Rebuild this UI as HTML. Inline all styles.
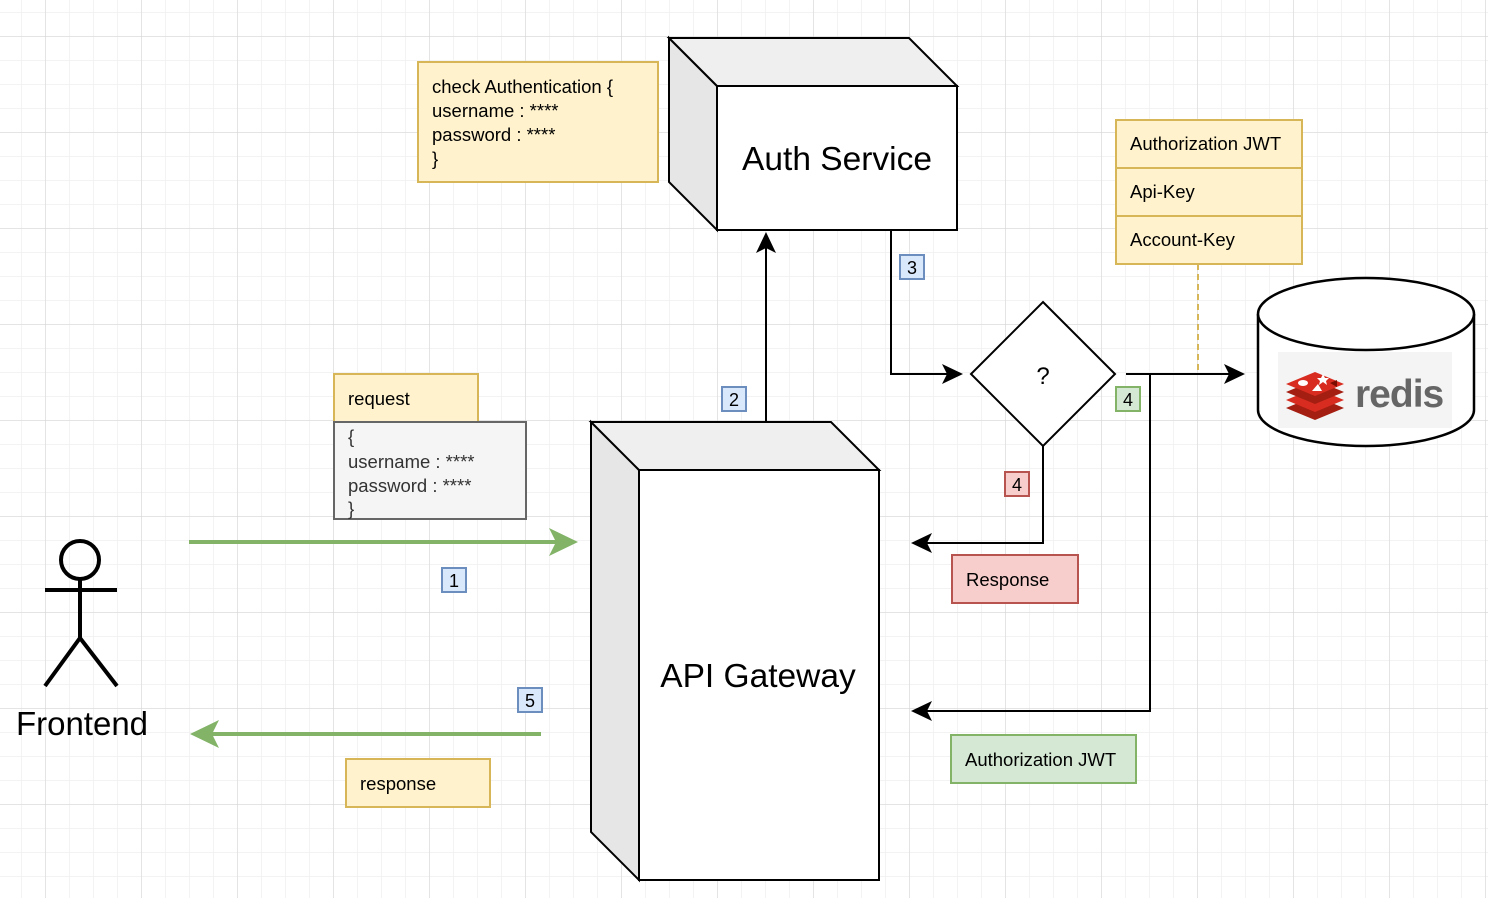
<!DOCTYPE html>
<html><head><meta charset="utf-8"><style>
html,body{margin:0;padding:0;background:#fff;}
svg{display:block;}
text{font-family:"Liberation Sans",sans-serif;fill:#000;}
</style></head><body>
<svg width="1488" height="898" viewBox="0 0 1488 898" xmlns="http://www.w3.org/2000/svg">
<defs>
<pattern id="minor" width="24" height="24" patternUnits="userSpaceOnUse" x="21" y="12">
<path d="M0 0H24M0 0V24" stroke="#efefef" stroke-width="1.5" fill="none"/>
</pattern>
<pattern id="major" width="96" height="96" patternUnits="userSpaceOnUse" x="45" y="36">
<path d="M0 0H96M0 0V96" stroke="#d2d2d2" stroke-width="1" fill="none"/>
</pattern>
</defs>
<rect width="1488" height="898" fill="url(#minor)"/>
<rect width="1488" height="898" fill="url(#major)"/>

<!-- Auth Service cube -->
<polygon points="669,38 717,86 717,230 669,182" fill="#e6e6e6" stroke="#000" stroke-width="2"/>
<polygon points="669,38 909,38 957,86 717,86" fill="#efefef" stroke="#000" stroke-width="2"/>
<rect x="717" y="86" width="240" height="144" fill="#fff" stroke="#000" stroke-width="2"/>
<text x="837" y="170" font-size="33.5" text-anchor="middle">Auth Service</text>

<!-- API Gateway cube -->
<polygon points="591,422 639,470 639,880 591,832" fill="#e6e6e6" stroke="#000" stroke-width="2"/>
<polygon points="591,422 831,422 879,470 639,470" fill="#efefef" stroke="#000" stroke-width="2"/>
<rect x="639" y="470" width="240" height="410" fill="#fff" stroke="#000" stroke-width="2"/>
<text x="758" y="687" font-size="33.5" text-anchor="middle">API Gateway</text>

<!-- check auth note -->
<rect x="418" y="62" width="240" height="120" fill="#fff2cc" stroke="#d6b656" stroke-width="2"/>
<text font-size="18.5"><tspan x="432" y="93">check Authentication {</tspan><tspan x="432" y="117">username : ****</tspan><tspan x="432" y="141">password : ****</tspan><tspan x="432" y="165">}</tspan></text>

<!-- Authorization list -->
<rect x="1116" y="120" width="186" height="144" fill="#fff2cc" stroke="#d6b656" stroke-width="2"/>
<line x1="1116" y1="168" x2="1302" y2="168" stroke="#d6b656" stroke-width="2"/>
<line x1="1116" y1="216" x2="1302" y2="216" stroke="#d6b656" stroke-width="2"/>
<text font-size="18.5"><tspan x="1130" y="150">Authorization JWT</tspan><tspan x="1130" y="198">Api-Key</tspan><tspan x="1130" y="246">Account-Key</tspan></text>
<line x1="1198" y1="264" x2="1198" y2="374" stroke="#d6b656" stroke-width="2" stroke-dasharray="6,4"/>

<!-- Redis cylinder -->
<path d="M1258 314 V410 A108 36 0 0 0 1474 410 V314" fill="#fff" stroke="#000" stroke-width="2.5"/>
<ellipse cx="1366" cy="314" rx="108" ry="36" fill="#fff" stroke="#000" stroke-width="2.5"/>
<rect x="1278" y="352" width="174" height="76" fill="#f4f4f4"/>
<g>
<polygon points="1286,408 1315,396 1344,408 1315,420" fill="#a41e11"/>
<polygon points="1286,400 1315,388 1344,400 1315,412" fill="#d82c20"/>
<polygon points="1286,392 1315,380 1344,392 1315,404" fill="#a41e11"/>
<polygon points="1286,384 1315,372 1344,384 1315,396" fill="#d82c20"/>
<ellipse cx="1303" cy="383" rx="5" ry="3" fill="#fff"/>
<polygon points="1323,374 1325,378 1329,378 1326,381 1327,385 1323,382 1319,385 1320,381 1317,378 1321,378" fill="#fff"/>
<polygon points="1312,391 1318,384 1322,391" fill="#fff"/>
<polygon points="1330,383 1337,380 1337,387" fill="#7a0c00"/>
</g>
<text x="1355" y="407" font-size="39" font-weight="bold" letter-spacing="-1" style="fill:#666">redis</text>

<!-- Diamond -->
<polygon points="1043,302 1115,374 1043,446 971,374" fill="#fff" stroke="#000" stroke-width="2"/>
<text x="1043" y="384" font-size="24" text-anchor="middle">?</text>

<!-- Connectors -->
<g stroke="#000" stroke-width="2" fill="none">
<polyline points="891,230 891,374 950,374"/>
<line x1="1126" y1="374" x2="1232" y2="374"/>
<polyline points="1150,374 1150,711 925,711"/>
<polyline points="1043,446 1043,543 925,543"/>
<line x1="766" y1="422" x2="766" y2="246"/>
</g>
<g fill="#000">
<polygon points="963,374 942,364 947,374 942,384"/>
<polygon points="1245,374 1224,364 1229,374 1224,384"/>
<polygon points="911,711 932,701 927,711 932,721"/>
<polygon points="911,543 932,533 927,543 932,553"/>
<polygon points="766,232 756,253 766,248 776,253"/>
</g>

<!-- Green arrows -->
<line x1="189" y1="542" x2="560" y2="542" stroke="#82b366" stroke-width="4"/>
<polygon points="578,542 549,528 556,542 549,556" fill="#82b366"/>
<line x1="541" y1="734" x2="208" y2="734" stroke="#82b366" stroke-width="4"/>
<polygon points="190,734 219,720 212,734 219,748" fill="#82b366"/>

<!-- request -->
<rect x="334" y="374" width="144" height="48" fill="#fff2cc" stroke="#d6b656" stroke-width="2"/>
<text x="348" y="405" font-size="18.5">request</text>
<rect x="334" y="422" width="192" height="97" fill="#f5f5f5" stroke="#666" stroke-width="2"/>
<text font-size="18.5" style="fill:#333"><tspan x="348" y="443">{</tspan><tspan x="348" y="468">username : ****</tspan><tspan x="348" y="492">password : ****</tspan><tspan x="348" y="515">}</tspan></text>

<!-- response boxes -->
<rect x="952" y="555" width="126" height="48" fill="#f8cecc" stroke="#b85450" stroke-width="2"/>
<text x="966" y="586" font-size="18.5">Response</text>
<rect x="951" y="735" width="185" height="48" fill="#d5e8d4" stroke="#82b366" stroke-width="2"/>
<text x="965" y="766" font-size="18.5">Authorization JWT</text>
<rect x="346" y="759" width="144" height="48" fill="#fff2cc" stroke="#d6b656" stroke-width="2"/>
<text x="360" y="790" font-size="18.5">response</text>

<!-- Number badges -->
<g font-size="18" text-anchor="middle">
<rect x="442" y="568" width="24" height="24" fill="#dae8fc" stroke="#6c8ebf" stroke-width="2"/><text x="454" y="587">1</text>
<rect x="722" y="387" width="24" height="24" fill="#dae8fc" stroke="#6c8ebf" stroke-width="2"/><text x="734" y="406">2</text>
<rect x="900" y="255" width="24" height="24" fill="#dae8fc" stroke="#6c8ebf" stroke-width="2"/><text x="912" y="274">3</text>
<rect x="1116" y="387" width="24" height="24" fill="#d5e8d4" stroke="#82b366" stroke-width="2"/><text x="1128" y="406">4</text>
<rect x="1005" y="472" width="24" height="24" fill="#f8cecc" stroke="#b85450" stroke-width="2"/><text x="1017" y="491">4</text>
<rect x="518" y="688" width="24" height="24" fill="#dae8fc" stroke="#6c8ebf" stroke-width="2"/><text x="530" y="707">5</text>
</g>

<!-- Stick figure -->
<g stroke="#000" stroke-width="4" fill="none">
<circle cx="80" cy="560" r="19"/>
<line x1="80" y1="579" x2="80" y2="638"/>
<line x1="45" y1="590" x2="117" y2="590"/>
<polyline points="45,686 80,638 117,686"/>
</g>
<text x="82" y="735" font-size="33" text-anchor="middle">Frontend</text>
</svg>
</body></html>
